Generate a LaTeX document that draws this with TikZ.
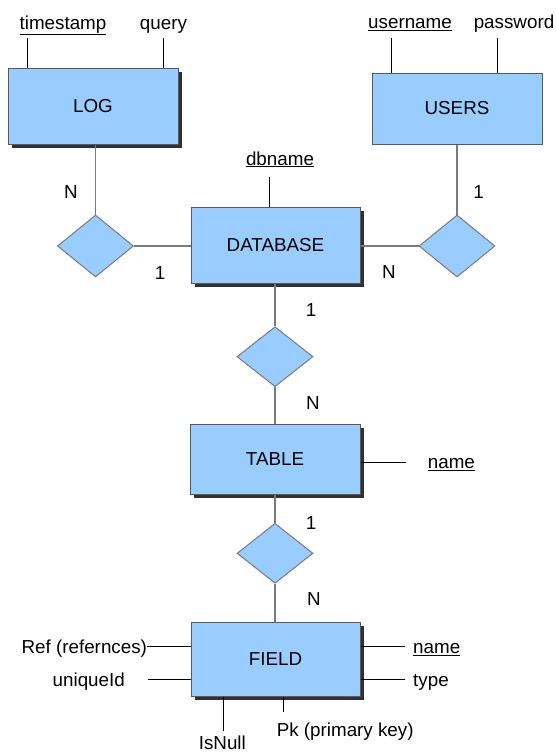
\documentclass[tikz,border=0pt]{standalone}
\usepackage{fontspec}
\setmainfont{Liberation Sans}
\usetikzlibrary{shapes.geometric,shadows}
\definecolor{entfill}{HTML}{99CCFF}
\definecolor{entdraw}{HTML}{5A5A5A}
\definecolor{shadowc}{HTML}{303030}
\definecolor{relline}{HTML}{7A7A7A}
\tikzset{
  lbl/.style={font=\fontsize{18.8}{22}\selectfont, inner sep=0pt},
  entity/.style={rectangle, fill=entfill, draw=entdraw, line width=1pt, inner sep=0pt,
     font=\fontsize{18.8}{22}\selectfont},
  shadowed/.style={drop shadow={shadow xshift=4pt, shadow yshift=-4pt, fill=shadowc, opacity=1}},
  rel/.style={diamond, fill=entfill, draw=relline, line width=1pt, inner sep=0pt,
     minimum width=76pt, minimum height=62pt},
  relconn/.style={draw=relline, line width=1.2pt},
  attrconn/.style={draw=black, line width=0.9pt},
}
\begin{document}
\begin{tikzpicture}[x=1pt,y=-1pt]
\useasboundingbox (0,0) rectangle (556,755);
% entities
\node[entity, shadowed, minimum width=170pt, minimum height=76pt] (log) at (93,106) {LOG};
\node[entity, minimum width=170pt, minimum height=71pt] (users) at (457,108.5) {USERS};
\node[entity, shadowed, minimum width=169pt, minimum height=76pt] (db) at (275.5,245) {DATABASE};
\node[entity, shadowed, minimum width=170pt, minimum height=70pt] (table) at (275,459) {TABLE};
\node[entity, shadowed, minimum width=169pt, minimum height=74pt] (field) at (275.5,659) {FIELD};
% relationships
\node[rel] (rlog) at (95.5,246) {};
\node[rel] (rusers) at (457,246) {};
\node[rel, minimum height=60pt] (rtab) at (275,356.7) {};
\node[rel, minimum height=60pt] (rfld) at (275,553.3) {};
% relationship connectors
\draw[relconn] (rlog.north) -- (rlog.north |- log.south);
\draw[relconn] (rlog.east) -- (rlog.east -| db.west);
\draw[relconn] (db.east |- rusers.west) -- (rusers.west);
\draw[relconn] (rusers.north) -- (rusers.north |- users.south);
\draw[relconn] (db.south -| rtab.north) -- (rtab.north);
\draw[relconn] (rtab.south) -- (rtab.south |- table.north);
\draw[relconn] (table.south -| rfld.north) -- (rfld.north);
\draw[relconn] (rfld.south) -- (rfld.south |- field.north);
% cardinalities
\node[lbl] (c1) at (71,192) {N};
\node[lbl] (c2) at (160,273) {1};
\node[lbl] (c3) at (389,272) {N};
\node[lbl] (c4) at (478.7,192) {1};
\node[lbl] (c5) at (311,310) {1};
\node[lbl] (c6) at (313,402.7) {N};
\node[lbl] (c7) at (311,522.7) {1};
\node[lbl] (c8) at (314,599) {N};
% attributes
\node[lbl, anchor=base] (ts) at (63,29.3) {\underline{timestamp}};
\node[lbl, anchor=base] (qry) at (163.5,29.3) {query};
\node[lbl, anchor=base] (un) at (410,28.3) {\underline{username}};
\node[lbl, anchor=base] (pw) at (514,28.3) {password};
\node[lbl, anchor=base] (dbn) at (280,165) {\underline{dbname}};
\node[lbl, anchor=base west] (tn) at (427.7,468.3) {\underline{name}};
\node[lbl, anchor=base east] (ref) at (147.2,653.8) {Ref (refernces)};
\node[lbl, anchor=base west] (uid) at (52.5,686.5) {uniqueId};
\node[lbl, anchor=base west] (fn) at (413,653.8) {\underline{name}};
\node[lbl, anchor=base west] (ty) at (413,686.5) {type};
\node[lbl, anchor=base west] (pk) at (276.6,736) {Pk (primary key)};
\node[lbl, anchor=base west] (isn) at (198.6,749) {IsNull};
% attribute connectors
\coordinate (tsb) at (27,38);
\coordinate (qb) at (163,38);
\coordinate (unb) at (391,38);
\coordinate (pwb) at (497,38);
\coordinate (dbnb) at (269.5,176.6);
\coordinate (tne) at (406,462.7);
\coordinate (refe) at (147,646.7);
\coordinate (uide) at (148,679.4);
\coordinate (fne) at (405,646.7);
\coordinate (tye) at (405,679.4);
\coordinate (pke) at (283.7,712);
\coordinate (isne) at (223.4,731);
\draw[attrconn] (tsb) -- (tsb |- log.north);
\draw[attrconn] (qb) -- (qb |- log.north);
\draw[attrconn] (unb) -- (unb |- users.north);
\draw[attrconn] (pwb) -- (pwb |- users.north);
\draw[attrconn] (dbnb) -- (dbnb |- db.north);
\draw[attrconn] (table.east |- tne) -- (tne);
\draw[attrconn] (refe) -- (refe -| field.west);
\draw[attrconn] (uide) -- (uide -| field.west);
\draw[attrconn] (field.east |- fne) -- (fne);
\draw[attrconn] (field.east |- tye) -- (tye);
\draw[attrconn] (pke |- field.south) -- (pke);
\draw[attrconn] (isne |- field.south) -- (isne);
\end{tikzpicture}
\end{document}
